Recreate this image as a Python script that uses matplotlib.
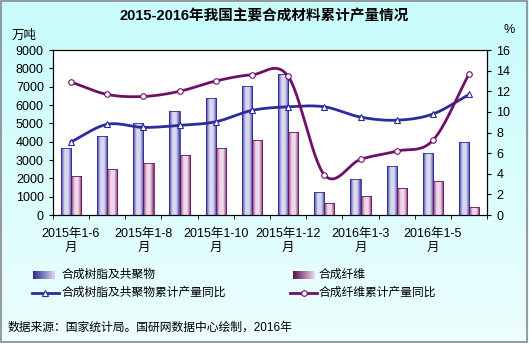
import numpy as np
import matplotlib
matplotlib.use("Agg")
import matplotlib.pyplot as plt
from matplotlib.colors import LinearSegmentedColormap
from matplotlib.lines import Line2D
from matplotlib.patches import Rectangle

plt.rcParams['font.family'] = ['Liberation Sans', 'Noto Sans CJK SC', 'DejaVu Sans']

categories = ["2015年1-6月", "2015年1-7月", "2015年1-8月", "2015年1-9月", "2015年1-10月",
              "2015年1-11月", "2015年1-12月", "2016年1-2月", "2016年1-3月", "2016年1-4月",
              "2016年1-5月", "2016年1-6月"]
tick_labels = ["2015年1-6\n月", "", "2015年1-8\n月", "", "2015年1-10\n月", "",
               "2015年1-12\n月", "", "2016年1-3\n月", "", "2016年1-5\n月", ""]
resin = [3670, 4340, 5000, 5670, 6360, 7030, 7720, 1270, 1960, 2670, 3360, 3980]
fiber = [2130, 2490, 2840, 3270, 3670, 4090, 4510, 640, 1020, 1450, 1840, 440]
resin_yoy = [7.1, 8.8, 8.5, 8.7, 9.05, 10.15, 10.5, 10.5, 9.5, 9.2, 9.8, 11.7]
fiber_yoy = [12.9, 11.7, 11.5, 12.0, 13.0, 13.6, 13.45, 3.9, 5.4, 6.2, 7.25, 13.7]

BLUE = "#2b2b9a"
PURPLE = "#6e1166"


def smooth(x, y, n=30):
    # Catmull-Rom style smoothing like Excel's smoothed lines
    x = np.asarray(x, float)
    y = np.asarray(y, float)
    px = np.concatenate([[2 * x[0] - x[1]], x, [2 * x[-1] - x[-2]]])
    py = np.concatenate([[2 * y[0] - y[1]], y, [2 * y[-1] - y[-2]]])
    xs, ys = [], []
    for i in range(1, len(px) - 2):
        t = np.linspace(0, 1, n, endpoint=False)
        for p, out in ((px, xs), (py, ys)):
            p0, p1, p2, p3 = p[i - 1], p[i], p[i + 1], p[i + 2]
            out.extend(0.5 * (2 * p1 + (-p0 + p2) * t + (2 * p0 - 5 * p1 + 4 * p2 - p3) * t ** 2
                              + (-p0 + 3 * p1 - 3 * p2 + p3) * t ** 3))
    xs.append(x[-1])
    ys.append(y[-1])
    return np.array(xs), np.array(ys)


def gradient_bars(ax, bars, dark, light):
    cmap = LinearSegmentedColormap.from_list("g", [dark, light, light, dark])
    grad = np.linspace(0, 1, 64).reshape(1, -1)
    for b in bars:
        x0, y0 = b.get_x(), b.get_y()
        w, h = b.get_width(), b.get_height()
        im = ax.imshow(grad, cmap=cmap, extent=[x0, x0 + w, y0, y0 + h],
                       aspect="auto", zorder=2, interpolation="bilinear")
        im.set_clip_path(b)
        b.set_facecolor("none")


fig = plt.figure(figsize=(5.29, 3.43), dpi=100)
# background gradient
bg = fig.add_axes([0, 0, 1, 1], zorder=-10)
bg.imshow(np.linspace(0, 1, 100).reshape(-1, 1),
          cmap=LinearSegmentedColormap.from_list("bg", ["#c8fcfc", "#ecfefe"]),
          aspect="auto", extent=[0, 1, 0, 1])
bg.add_patch(Rectangle((0.002, 0.003), 0.995, 0.994, fill=False, edgecolor="#888888",
                       linewidth=1.2, transform=bg.transAxes))
bg.set_axis_off()

ax = fig.add_axes([0.1, 0.373, 0.821, 0.481])
ax2 = ax.twinx()
ax.set_zorder(1)
ax2.set_zorder(2)

x = np.arange(len(categories))
w = 0.28
b1 = ax.bar(x - w / 2, resin, w, edgecolor=BLUE, linewidth=0.6, zorder=3)
b2 = ax.bar(x + w / 2, fiber, w, edgecolor=PURPLE, linewidth=0.6, zorder=3)
gradient_bars(ax, b1, "#3a3aa0", "#d8d8f0")
gradient_bars(ax, b2, "#7a2a6e", "#f0d8ea")

ax.set_xlim(-0.5, len(categories) - 0.5)
ax.set_ylim(0, 9000)
ax.set_yticks(range(0, 9001, 1000))
ax.set_xticks(x)
ax.set_xticklabels(tick_labels, fontsize=9, linespacing=1.25)
ax.tick_params(axis="x", length=0, pad=9)
ax.set_xticks(np.arange(-0.5, len(categories), 1), minor=True)
ax.tick_params(axis="x", which="minor", length=3, direction="out")
ax.tick_params(axis="y", labelsize=9, length=3, direction="out")
ax.set_facecolor("white")

sx, sy = smooth(x, resin_yoy)
ax2.plot(sx, sy, color=BLUE, linewidth=2)
ax2.plot(x, resin_yoy, linestyle="none", marker="^", markersize=4.5,
         markerfacecolor="white", markeredgecolor=BLUE, markeredgewidth=0.8)
sx, sy = smooth(x, fiber_yoy)
ax2.plot(sx, sy, color=PURPLE, linewidth=2)
ax2.plot(x, fiber_yoy, linestyle="none", marker="o", markersize=4,
         markerfacecolor="white", markeredgecolor=PURPLE, markeredgewidth=0.8)
ax2.set_ylim(0, 16)
ax2.set_yticks(range(0, 17, 2))
ax2.tick_params(axis="y", labelsize=9, length=3, direction="out")

for a in (ax, ax2):
    for s in a.spines.values():
        s.set_color("black")
        s.set_linewidth(0.8)

fig.text(0.5, 0.952, "2015-2016年我国主要合成材料累计产量情况", ha="center", va="center",
         fontsize=10.5, fontweight="bold")
fig.text(0.022, 0.895, "万吨", ha="left", va="center", fontsize=9)
fig.text(0.963, 0.913, "%", ha="center", va="center", fontsize=9)

# legend
def leg_bar(xf, yf, dark, light):
    lax = fig.add_axes([xf, yf - 0.012, 0.04, 0.024])
    lax.imshow(np.linspace(0, 1, 64).reshape(1, -1),
               cmap=LinearSegmentedColormap.from_list("l", [dark, light]), aspect="auto")
    lax.set_axis_off()

row1, row2 = 0.198, 0.146
leg_bar(0.063, row1, "#2b2b8a", "#d8d8f0")
leg_bar(0.553, row1, "#5a1050", "#f0d8ea")
for xf, color, mk in ((0.06, BLUE, "^"), (0.548, PURPLE, "o")):
    fig.add_artist(Line2D([xf, xf + 0.052], [row2, row2], color=color, linewidth=2,
                          transform=fig.transFigure))
    fig.add_artist(Line2D([xf + 0.026], [row2], marker=mk, markersize=4, markerfacecolor="white",
                          markeredgecolor=color, markeredgewidth=0.8, transform=fig.transFigure))
fig.text(0.116, row1, "合成树脂及共聚物", va="center", fontsize=8.5)
fig.text(0.602, row1, "合成纤维", va="center", fontsize=8.5)
fig.text(0.116, row2, "合成树脂及共聚物累计产量同比", va="center", fontsize=8.5)
fig.text(0.602, row2, "合成纤维累计产量同比", va="center", fontsize=8.5)

fig.text(0.015, 0.046, "数据来源：国家统计局。国研网数据中心绘制，2016年", va="center", fontsize=8.5)

fig.savefig("out.png", dpi=100)
